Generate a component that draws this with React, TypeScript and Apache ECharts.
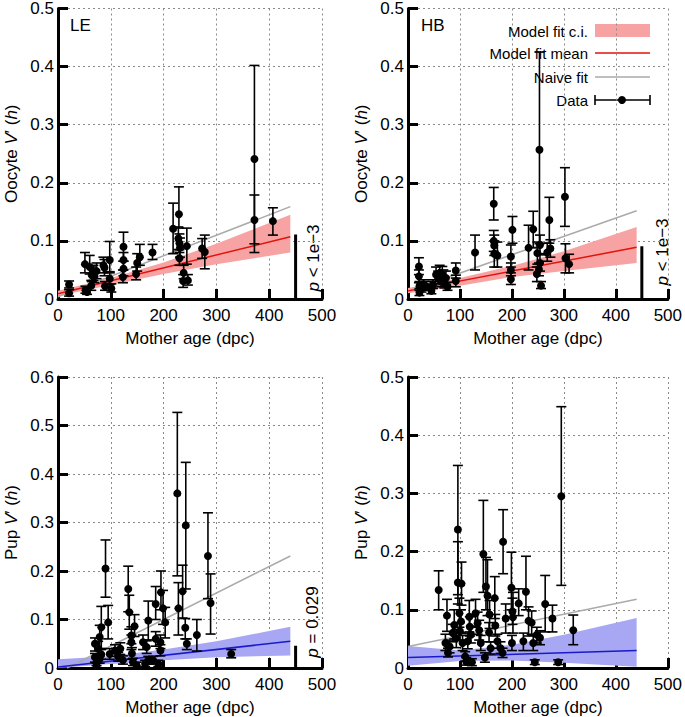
import React, { useEffect, useRef } from "react";
import * as echarts from "echarts";

const FONT = "Liberation Sans, Arial, Helvetica, sans-serif";

// ---- data: [x (dpc), y, lower, upper] ----
const leOocyte = [
  [21, 0.025, 0.019, 0.031], [21, 0.010, 0.005, 0.016], [51, 0.060, 0.045, 0.080],
  [52, 0.015, 0.010, 0.022], [55, 0.012, 0.008, 0.018], [60, 0.055, 0.043, 0.075],
  [63, 0.023, 0.015, 0.032], [64, 0.041, 0.030, 0.055], [67, 0.045, 0.032, 0.058],
  [69, 0.039, 0.028, 0.050], [73, 0.048, 0.035, 0.062], [86, 0.058, 0.045, 0.072],
  [88, 0.054, 0.040, 0.068], [89, 0.022, 0.015, 0.030], [98, 0.067, 0.045, 0.099],
  [98, 0.035, 0.025, 0.047], [101, 0.018, 0.012, 0.026], [124, 0.090, 0.065, 0.115],
  [124, 0.067, 0.050, 0.080], [124, 0.052, 0.040, 0.065], [123, 0.038, 0.028, 0.050],
  [148, 0.043, 0.033, 0.055], [150, 0.062, 0.048, 0.078], [155, 0.072, 0.058, 0.094],
  [179, 0.080, 0.068, 0.094], [218, 0.121, 0.078, 0.165], [229, 0.146, 0.122, 0.193],
  [228, 0.104, 0.085, 0.124], [230, 0.096, 0.080, 0.112], [231, 0.088, 0.072, 0.105],
  [230, 0.070, 0.058, 0.085], [244, 0.091, 0.060, 0.122], [238, 0.045, 0.035, 0.058],
  [237, 0.031, 0.020, 0.042], [246, 0.032, 0.024, 0.042], [273, 0.087, 0.070, 0.104],
  [278, 0.081, 0.052, 0.110], [372, 0.241, 0.095, 0.402], [372, 0.136, 0.080, 0.179],
  [407, 0.134, 0.110, 0.157],
];
const hbOocyte = [
  [21, 0.056, 0.042, 0.071], [21, 0.039, 0.028, 0.050], [22, 0.022, 0.015, 0.030],
  [22, 0.011, 0.006, 0.018], [26, 0.018, 0.012, 0.026], [30, 0.025, 0.017, 0.033],
  [35, 0.022, 0.015, 0.030], [45, 0.014, 0.009, 0.020], [48, 0.025, 0.018, 0.033],
  [54, 0.042, 0.030, 0.055], [58, 0.036, 0.026, 0.048], [61, 0.045, 0.033, 0.058],
  [64, 0.030, 0.021, 0.040], [66, 0.042, 0.030, 0.056], [68, 0.038, 0.027, 0.050],
  [70, 0.027, 0.019, 0.036], [73, 0.036, 0.025, 0.048], [76, 0.021, 0.015, 0.029],
  [92, 0.049, 0.036, 0.062], [92, 0.031, 0.021, 0.041], [129, 0.080, 0.050, 0.110],
  [165, 0.164, 0.136, 0.192], [165, 0.100, 0.082, 0.118], [166, 0.092, 0.075, 0.110],
  [166, 0.078, 0.055, 0.100], [172, 0.075, 0.055, 0.098], [201, 0.119, 0.096, 0.142],
  [198, 0.073, 0.055, 0.093], [198, 0.050, 0.040, 0.062], [198, 0.034, 0.025, 0.045],
  [232, 0.088, 0.050, 0.127], [241, 0.120, 0.088, 0.151], [249, 0.079, 0.060, 0.098],
  [248, 0.043, 0.030, 0.055], [253, 0.257, 0.095, 0.425], [254, 0.093, 0.078, 0.110],
  [254, 0.062, 0.048, 0.076], [252, 0.051, 0.040, 0.062], [256, 0.023, 0.018, 0.030],
  [272, 0.136, 0.096, 0.175], [268, 0.080, 0.065, 0.096], [274, 0.087, 0.072, 0.102],
  [302, 0.176, 0.125, 0.226], [303, 0.070, 0.045, 0.095], [310, 0.060, 0.045, 0.077],
];
const lePup = [
  [70, 0.050, 0.035, 0.062], [73, 0.012, 0.005, 0.020], [73, 0.004, 0.000, 0.010],
  [70, 0.022, 0.012, 0.030], [76, 0.040, 0.025, 0.055], [79, 0.064, 0.040, 0.088],
  [79, 0.019, 0.010, 0.028], [82, 0.084, 0.040, 0.127], [82, 0.028, 0.018, 0.038],
  [90, 0.205, 0.146, 0.264], [95, 0.094, 0.060, 0.129], [98, 0.029, 0.018, 0.040],
  [108, 0.036, 0.024, 0.048], [114, 0.023, 0.014, 0.032], [118, 0.040, 0.028, 0.052],
  [123, 0.016, 0.008, 0.025], [133, 0.163, 0.116, 0.210], [135, 0.115, 0.080, 0.150],
  [139, 0.067, 0.050, 0.085], [139, 0.053, 0.038, 0.068], [140, 0.030, 0.018, 0.042],
  [142, 0.012, 0.005, 0.020], [145, 0.086, 0.065, 0.110], [149, 0.005, 0.000, 0.012],
  [161, 0.053, 0.038, 0.068], [165, 0.009, 0.003, 0.016], [168, 0.043, 0.030, 0.056],
  [171, 0.098, 0.058, 0.138], [171, 0.016, 0.008, 0.024], [180, 0.016, 0.008, 0.024],
  [185, 0.132, 0.100, 0.168], [185, 0.060, 0.045, 0.075], [190, 0.009, 0.003, 0.016],
  [194, 0.053, 0.040, 0.068], [194, 0.036, 0.025, 0.048], [195, 0.156, 0.120, 0.200],
  [199, 0.123, 0.090, 0.160], [203, 0.094, 0.062, 0.125], [226, 0.360, 0.190, 0.527],
  [228, 0.123, 0.068, 0.176], [236, 0.158, 0.103, 0.212], [242, 0.294, 0.163, 0.424],
  [241, 0.083, 0.060, 0.102], [244, 0.050, 0.038, 0.060], [263, 0.068, 0.035, 0.100],
  [284, 0.231, 0.143, 0.320], [289, 0.134, 0.070, 0.194], [328, 0.029, 0.021, 0.038],
];
const hbPup = [
  [59, 0.134, 0.100, 0.167], [72, 0.043, 0.030, 0.058], [75, 0.090, 0.063, 0.118],
  [77, 0.026, 0.019, 0.034], [80, 0.037, 0.026, 0.048], [86, 0.060, 0.045, 0.075],
  [89, 0.074, 0.050, 0.100], [93, 0.051, 0.035, 0.066], [96, 0.238, 0.126, 0.348],
  [96, 0.147, 0.110, 0.217], [103, 0.145, 0.108, 0.182], [99, 0.094, 0.070, 0.120],
  [102, 0.080, 0.060, 0.100], [100, 0.063, 0.048, 0.078], [105, 0.043, 0.030, 0.056],
  [110, 0.020, 0.012, 0.028], [112, 0.011, 0.005, 0.018], [115, 0.046, 0.033, 0.060],
  [118, 0.088, 0.062, 0.116], [119, 0.071, 0.055, 0.088], [121, 0.057, 0.043, 0.072],
  [123, 0.010, 0.004, 0.016], [130, 0.094, 0.070, 0.118], [134, 0.077, 0.058, 0.096],
  [137, 0.065, 0.048, 0.082], [140, 0.043, 0.030, 0.056], [145, 0.196, 0.130, 0.288],
  [150, 0.140, 0.100, 0.190], [153, 0.124, 0.090, 0.186], [157, 0.092, 0.068, 0.116],
  [156, 0.061, 0.045, 0.078], [159, 0.034, 0.024, 0.045], [148, 0.018, 0.010, 0.026],
  [167, 0.120, 0.085, 0.157], [168, 0.073, 0.055, 0.092], [172, 0.046, 0.034, 0.058],
  [178, 0.034, 0.025, 0.045], [182, 0.026, 0.018, 0.034], [183, 0.217, 0.162, 0.272],
  [188, 0.085, 0.060, 0.110], [199, 0.138, 0.100, 0.199], [202, 0.087, 0.060, 0.130],
  [200, 0.043, 0.030, 0.056], [201, 0.097, 0.075, 0.120], [213, 0.111, 0.090, 0.136],
  [227, 0.131, 0.100, 0.192], [222, 0.046, 0.030, 0.060], [232, 0.081, 0.055, 0.105],
  [238, 0.078, 0.058, 0.098], [241, 0.043, 0.030, 0.056], [244, 0.010, 0.006, 0.014],
  [248, 0.057, 0.043, 0.070], [254, 0.052, 0.040, 0.064], [264, 0.110, 0.062, 0.159],
  [278, 0.085, 0.062, 0.108], [289, 0.010, 0.006, 0.014], [295, 0.295, 0.142, 0.449],
  [318, 0.065, 0.040, 0.091],
];

// ---- fits ----
const bandX = [0, 100, 200, 300, 440];
const leOocyteBandLo = [0.005, 0.024, 0.043, 0.060, 0.080];
const leOocyteBandHi = [0.014, 0.036, 0.063, 0.095, 0.145];
const leOocyteMean = [[0, 0.009], [440, 0.107]];
const leOocyteNaive = [[0, 0.004], [440, 0.159]];

const hbOocyteBandLo = [0.010, 0.023, 0.038, 0.048, 0.062];
const hbOocyteBandHi = [0.019, 0.036, 0.057, 0.082, 0.124];
const hbOocyteMean = [[0, 0.014], [440, 0.089]];
const hbOocyteNaive = [[0, 0.013], [440, 0.152]];

const lePupBandLo = [0.000, 0.008, 0.016, 0.022, 0.026];
const lePupBandHi = [0.018, 0.024, 0.038, 0.055, 0.085];
const lePupMean = [[0, 0.002], [440, 0.055]];
const lePupNaive = [[17, 0.0], [440, 0.231]];

const hbPupBandLo = [0.004, 0.012, 0.013, 0.009, 0.002];
const hbPupBandHi = [0.038, 0.030, 0.040, 0.057, 0.086];
const hbPupMean = [[0, 0.018], [440, 0.030]];
const hbPupNaive = [[0, 0.037], [440, 0.118]];

const yMaxes = [0.5, 0.5, 0.6, 0.5];
const pBarTops = [0.111, 0.091, 0.046];
const pLabels = ["{i|p} < 1e\u22123", "{i|p} < 1e\u22123", "{i|p} = 0.029"];
const panelLabels = ["LE", "HB"];
const xName = "Mother age (dpc)";
const yNames = [
  "Oocyte {i|V}\u2032 ({i|h})",
  "Oocyte {i|V}\u2032 ({i|h})",
  "Pup {i|V}\u2032 ({i|h})",
  "Pup {i|V}\u2032 ({i|h})",
];

const RED_BAND = "#f8a3a3";
const RED_LINE = "#e3120b";
const BLUE_BAND = "#a7a7f3";
const BLUE_LINE = "#1a1acb";
const GREY_LINE = "#aaaaaa";

export default function App() {
  const ref = useRef<HTMLDivElement>(null);

  useEffect(() => {
    if (!ref.current) return;
    const chart = echarts.init(ref.current, undefined, { renderer: "svg" });

    const grids = [
      { left: 58, top: 7, width: 264, height: 292 },
      { left: 408, top: 7, width: 263, height: 292 },
      { left: 58, top: 377, width: 264, height: 292 },
      { left: 408, top: 377, width: 263, height: 293 },
    ];

    const panels = [
      { pts: leOocyte, lo: leOocyteBandLo, hi: leOocyteBandHi, mean: leOocyteMean, naive: leOocyteNaive, band: RED_BAND, line: RED_LINE },
      { pts: hbOocyte, lo: hbOocyteBandLo, hi: hbOocyteBandHi, mean: hbOocyteMean, naive: hbOocyteNaive, band: RED_BAND, line: RED_LINE },
      { pts: lePup, lo: lePupBandLo, hi: lePupBandHi, mean: lePupMean, naive: lePupNaive, band: BLUE_BAND, line: BLUE_LINE },
      { pts: hbPup, lo: hbPupBandLo, hi: hbPupBandHi, mean: hbPupMean, naive: hbPupNaive, band: BLUE_BAND, line: BLUE_LINE },
    ];

    const axisCommon = {
      axisLine: { show: true, onZero: false, lineStyle: { color: "#000", width: 3 } },
      axisTick: { show: true, inside: true, length: 10, lineStyle: { color: "#000", width: 3 } },
      splitLine: { show: true, lineStyle: { color: "#8a8a8a", type: [2, 3], width: 1 } },
    };

    const xAxis = grids.map((_, i) => ({
      type: "value",
      gridIndex: i,
      min: 0,
      max: 500,
      interval: 100,
      ...axisCommon,
      axisLabel: { fontSize: 17, color: "#000", fontFamily: FONT, margin: 8 },
      name: xName,
      nameLocation: "middle",
      nameGap: 31,
      nameTextStyle: { fontSize: 17, color: "#000", fontFamily: FONT },
    }));

    const yAxis = grids.map((_, i) => ({
      type: "value",
      gridIndex: i,
      min: 0,
      max: yMaxes[i],
      interval: 0.1,
      ...axisCommon,
      axisLabel: {
        fontSize: 17,
        color: "#000",
        fontFamily: FONT,
        margin: 4,
        formatter: (v: number) => (v === 0 ? "0" : v.toFixed(1)),
      },
      name: yNames[i],
      nameLocation: "middle",
      nameGap: 38,
      nameTextStyle: {
        fontSize: 17,
        color: "#000",
        fontFamily: FONT,
        rich: { i: { fontStyle: "italic", fontSize: 17, color: "#000", fontFamily: FONT } },
      },
    }));

    const series: any[] = [];
    panels.forEach((p, i) => {
      const bandData = bandX.map((x, k) => [x, p.lo[k], p.hi[k]]);
      series.push({
        type: "custom",
        xAxisIndex: i,
        yAxisIndex: i,
        silent: true,
        z: 1,
        data: bandData,
        encode: { x: 0, y: [1, 2] },
        renderItem: (params: any, api: any) => {
          if (params.dataIndex !== 0) return null;
          const upper = bandData.map((d) => api.coord([d[0], d[2]]));
          const lower = bandData.map((d) => api.coord([d[0], d[1]])).reverse();
          return {
            type: "polygon",
            shape: { points: upper.concat(lower) },
            style: { fill: p.band, stroke: "none" },
          };
        },
      });
      series.push({
        type: "line",
        xAxisIndex: i,
        yAxisIndex: i,
        data: p.naive,
        showSymbol: false,
        silent: true,
        z: 2,
        lineStyle: { color: GREY_LINE, width: 1.5 },
      });
      series.push({
        type: "line",
        xAxisIndex: i,
        yAxisIndex: i,
        data: p.mean,
        showSymbol: false,
        silent: true,
        z: 3,
        lineStyle: { color: p.line, width: 1.5 },
      });
      series.push({
        type: "custom",
        xAxisIndex: i,
        yAxisIndex: i,
        silent: true,
        z: 4,
        data: p.pts,
        encode: { x: 0, y: [2, 3] },
        renderItem: (params: any, api: any) => {
          const x = api.value(0);
          const a = api.coord([x, api.value(2)]);
          const b = api.coord([x, api.value(3)]);
          const hw = 5;
          const st = { stroke: "#000", lineWidth: 1.6 };
          return {
            type: "group",
            children: [
              { type: "line", shape: { x1: a[0], y1: a[1], x2: b[0], y2: b[1] }, style: st },
              { type: "line", shape: { x1: a[0] - hw, y1: a[1], x2: a[0] + hw, y2: a[1] }, style: st },
              { type: "line", shape: { x1: b[0] - hw, y1: b[1], x2: b[0] + hw, y2: b[1] }, style: st },
            ],
          };
        },
      });
      series.push({
        type: "scatter",
        xAxisIndex: i,
        yAxisIndex: i,
        silent: true,
        z: 5,
        symbol: "circle",
        symbolSize: 8,
        itemStyle: { color: "#000", opacity: 1 },
        data: p.pts.map((d) => [d[0], d[1]]),
      });
      if (i < pBarTops.length) {
        series.push({
          type: "line",
          xAxisIndex: i,
          yAxisIndex: i,
          silent: true,
          z: 6,
          showSymbol: false,
          data: [[450, 0], [450, pBarTops[i]]],
          lineStyle: { color: "#000", width: 3 },
        });
      }
    });

    const pPos = [
      [313, 258],
      [662, 252],
      [312, 622],
    ];
    const textBase = { fontSize: 17, fill: "#000", fontFamily: FONT };
    const graphic: any[] = [];
    pLabels.forEach((t, k) => {
      graphic.push({
        type: "text",
        x: pPos[k][0],
        y: pPos[k][1],
        rotation: Math.PI / 2,
        style: {
          ...textBase,
          text: t,
          align: "center",
          verticalAlign: "middle",
          rich: { i: { fontStyle: "italic", fontSize: 17, fontFamily: FONT, fill: "#000" } },
        },
      });
    });
    graphic.push({ type: "text", x: 70, y: 25, style: { ...textBase, text: panelLabels[0], verticalAlign: "middle" } });
    graphic.push({ type: "text", x: 421, y: 25, style: { ...textBase, text: panelLabels[1], verticalAlign: "middle" } });

    // legend in HB oocyte panel
    const legTextX = 588;
    const symX0 = 595;
    const symX1 = 650;
    const legRows = [31, 53, 77, 100];
    const legTexts = ["Model fit c.i.", "Model fit mean", "Naive fit", "Data"];
    const legFont = { fontSize: 15, fill: "#000", fontFamily: FONT };
    legTexts.forEach((t, k) => {
      graphic.push({
        type: "text",
        x: legTextX,
        y: legRows[k],
        style: { ...legFont, text: t, align: "right", verticalAlign: "middle" },
      });
    });
    graphic.push({
      type: "rect",
      shape: { x: symX0, y: legRows[0] - 7, width: symX1 - symX0, height: 13 },
      style: { fill: RED_BAND },
    });
    graphic.push({
      type: "line",
      shape: { x1: symX0, y1: legRows[1], x2: symX1, y2: legRows[1] },
      style: { stroke: RED_LINE, lineWidth: 1.5 },
    });
    graphic.push({
      type: "line",
      shape: { x1: symX0, y1: legRows[2], x2: symX1, y2: legRows[2] },
      style: { stroke: GREY_LINE, lineWidth: 1.5 },
    });
    graphic.push({
      type: "group",
      children: [
        { type: "line", shape: { x1: symX0, y1: legRows[3], x2: symX1, y2: legRows[3] }, style: { stroke: "#000", lineWidth: 1.6 } },
        { type: "line", shape: { x1: symX0, y1: legRows[3] - 5, x2: symX0, y2: legRows[3] + 5 }, style: { stroke: "#000", lineWidth: 1.6 } },
        { type: "line", shape: { x1: symX1, y1: legRows[3] - 5, x2: symX1, y2: legRows[3] + 5 }, style: { stroke: "#000", lineWidth: 1.6 } },
        { type: "circle", shape: { cx: 622, cy: legRows[3], r: 4 }, style: { fill: "#000" } },
      ],
    });

    chart.setOption({
      animation: false,
      backgroundColor: "#fff",
      grid: grids,
      xAxis,
      yAxis,
      series,
      graphic,
    });

    return () => chart.dispose();
  }, []);

  return (
    <div
      ref={ref}
      style={{ position: "absolute", left: 0, top: 0, width: 685, height: 717 }}
    />
  );
}
